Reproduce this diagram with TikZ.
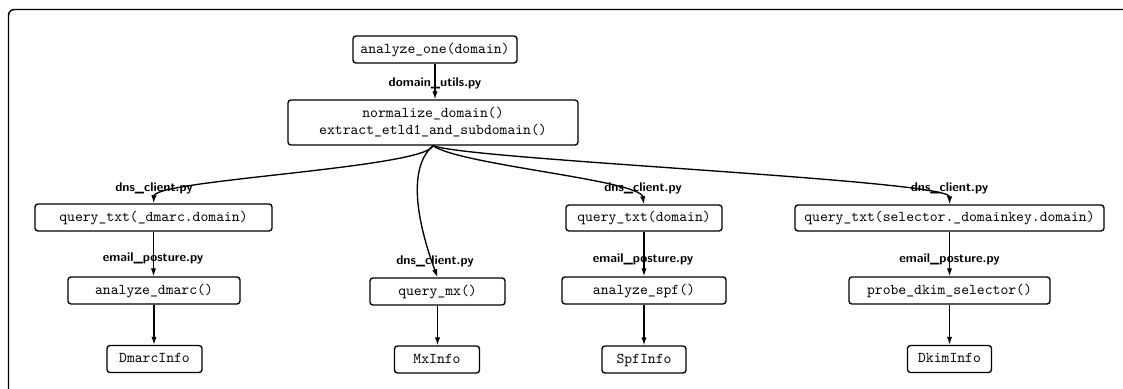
\documentclass[tikz,border=0pt]{standalone}
\usepackage{fontspec}
\usetikzlibrary{arrows.meta}

\begin{document}
\begin{tikzpicture}[
  x=0.669pt, y=-0.669pt,
  fn/.style={draw, line width=0.9pt, rounded corners=2pt, inner sep=0pt,
    font=\ttfamily\fontsize{10}{11.4}\selectfont, align=center,
    text height=7.5pt, text depth=2.5pt},
  bw/.style={minimum width=#1*0.669pt},
  bh/.style={minimum height=#1*0.669pt},
  lbl/.style={font=\sffamily\bfseries\fontsize{8.5}{10}\selectfont, inner sep=0pt},
  edge/.style={draw, line width=0.9pt, -{Latex[length=5.4pt,width=3.6pt]}},
  frame/.style={draw, line width=1pt, rounded corners=4pt}
]
\useasboundingbox (0,0) rectangle (1123,389);
\clip (0,0) rectangle (1123,389);
\fill[white] (0,0) rectangle (1123,389);

% outer frame, running past the right and bottom edges
\draw[frame] (8.5,9.5) rectangle (1160,430);

% entry point and domain helpers
\node[fn, bw=164, bh=27] (one) at (435,49.5) {analyze\_one(domain)};
\node[fn, bw=290, bh=45, text height=, text depth=] (norm) at (433,122.5)
  {normalize\_domain()\\extract\_etld1\_and\_subdomain()};

% DNS lookups
\node[fn, bw=237, bh=27] (qdmarc) at (153.5,217.5) {query\_txt(\_dmarc.domain)};
\node[fn, bw=156, bh=26] (qspf) at (644,218) {query\_txt(domain)};
\node[fn, bw=309, bh=26] (qdkim) at (949.5,218) {query\_txt(selector.\_domainkey.domain)};

% analysers
\node[fn, bw=172, bh=27] (admarc) at (154,290.5) {analyze\_dmarc()};
\node[fn, bw=135, bh=27] (qmx) at (437.5,291.5) {query\_mx()};
\node[fn, bw=164, bh=27] (aspf) at (644,290.5) {analyze\_spf()};
\node[fn, bw=201, bh=27] (pdkim) at (949.5,290.5) {probe\_dkim\_selector()};

% result records
\node[fn, bw=95, bh=27] (idmarc) at (154.5,359) {DmarcInfo};
\node[fn, bw=85, bh=27] (imx) at (437,359.5) {MxInfo};
\node[fn, bw=84, bh=27] (ispf) at (644,359.5) {SpfInfo};
\node[fn, bw=84, bh=27] (idkim) at (949.5,359) {DkimInfo};

% connectors
\draw[edge] (one.south) -- (one.south |- norm.north);
\draw[edge] (norm.south) .. controls (425,168) and (155,180) .. (qdmarc.north);
\draw[edge] (norm.south) .. controls (405,170) and (420,230) .. (qmx.north);
\draw[edge] (norm.south) .. controls (460,165) and (640,180) .. (qspf.north);
\draw[edge] (norm.south) .. controls (470,160) and (950,180) .. (qdkim.north);

\draw[edge] (qdmarc.south) -- (qdmarc.south |- admarc.north);
\draw[edge] (qspf.south) -- (qspf.south |- aspf.north);
\draw[edge] (qdkim.south) -- (qdkim.south |- pdkim.north);

\draw[edge] (admarc.south) -- (admarc.south |- idmarc.north);
\draw[edge] (qmx.south) -- (qmx.south |- imx.north);
\draw[edge] (aspf.south) -- (aspf.south |- ispf.north);
\draw[edge] (pdkim.south) -- (pdkim.south |- idkim.north);

% module labels
\node[lbl] (lutils) at (435,83) {domain\_utils.py};
\node[lbl] (ldns1) at (154,188) {dns\_client.py};
\node[lbl] (ldns2) at (435,261) {dns\_client.py};
\node[lbl] (ldns3) at (643,188) {dns\_client.py};
\node[lbl] (ldns4) at (949.5,188) {dns\_client.py};
\node[lbl] (lep1) at (153,258.5) {email\_posture.py};
\node[lbl] (lep2) at (643,259) {email\_posture.py};
\node[lbl] (lep3) at (949.5,259) {email\_posture.py};
\end{tikzpicture}
\end{document}
